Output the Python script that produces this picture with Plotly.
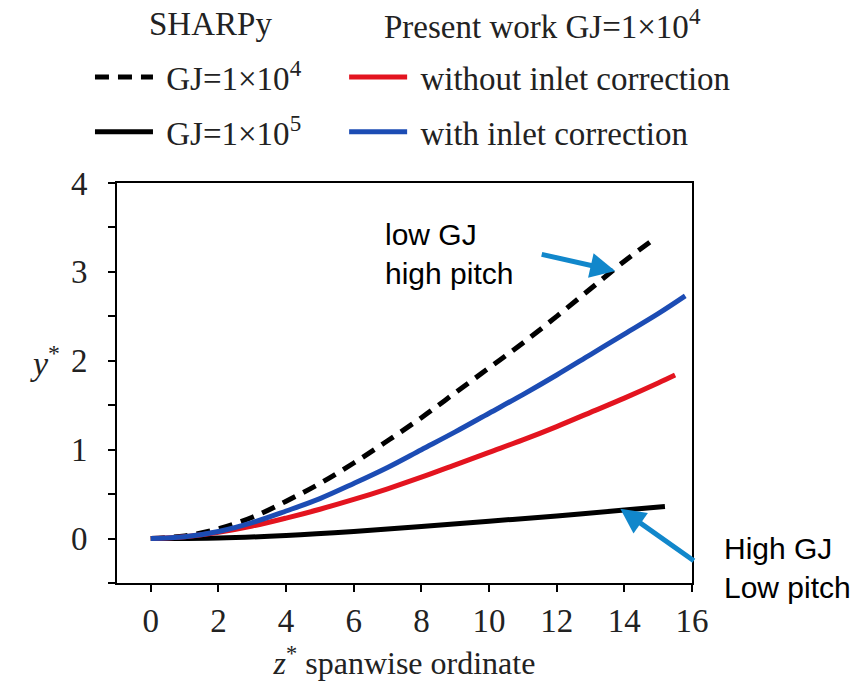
import plotly.graph_objects as go

# ---- data ----
z_sharpy_gj4 = [0, 1, 2, 3, 4, 5, 6, 7, 8, 9, 10, 11, 12, 13, 14, 14.85]
y_sharpy_gj4 = [0, 0.03, 0.11, 0.24, 0.42, 0.62, 0.85, 1.10, 1.36, 1.64, 1.92, 2.20, 2.50, 2.81, 3.12, 3.36]

z_sharpy_gj5 = [0, 2, 4, 6, 8, 10, 12, 14, 15.2]
y_sharpy_gj5 = [0, 0.005, 0.035, 0.08, 0.135, 0.195, 0.255, 0.32, 0.36]

z_no_corr = [0, 1, 2, 3, 4, 5, 6, 7, 8, 9, 10, 11, 12, 13, 14, 15, 15.5]
y_no_corr = [0, 0.02, 0.07, 0.14, 0.23, 0.33, 0.44, 0.56, 0.69, 0.83, 0.97, 1.11, 1.26, 1.42, 1.58, 1.75, 1.84]

z_corr = [0, 1, 2, 3, 4, 5, 6, 7, 8, 9, 10, 11, 12, 13, 14, 15, 15.8]
y_corr = [0, 0.02, 0.08, 0.18, 0.31, 0.45, 0.62, 0.80, 1.00, 1.20, 1.41, 1.62, 1.84, 2.07, 2.30, 2.53, 2.73]

x_ticks = [0, 2, 4, 6, 8, 10, 12, 14, 16]
y_ticks = [0, 1, 2, 3, 4]

SERIF = "Liberation Serif, Times New Roman, serif"
SANS = "Liberation Sans, Arial, sans-serif"
TXT = "#222"
RED = "#e3141f"
BLUE = "#1c4cb4"
ARROW = "#1187cb"
NB = "\u00a0"

fig = go.Figure()
fig.add_trace(go.Scatter(x=z_sharpy_gj4, y=y_sharpy_gj4, mode="lines", name=NB + "GJ=1×10<sup>4</sup>",
                         line=dict(color="black", width=5, dash="14px,9px", shape="spline"),
                         legend="legend", legendgroup="a"))
fig.add_trace(go.Scatter(x=z_sharpy_gj5, y=y_sharpy_gj5, mode="lines", name=NB + "GJ=1×10<sup>5</sup>",
                         line=dict(color="black", width=5, shape="spline"), legend="legend", legendgroup="b"))
fig.add_trace(go.Scatter(x=z_no_corr, y=y_no_corr, mode="lines", name=NB + "without inlet correction",
                         line=dict(color=RED, width=5, shape="spline"), legend="legend2", legendgroup="c"))
fig.add_trace(go.Scatter(x=z_corr, y=y_corr, mode="lines", name=NB + "with inlet correction",
                         line=dict(color=BLUE, width=5, shape="spline"), legend="legend2", legendgroup="d"))

axis_common = dict(showline=True, linecolor="black", linewidth=2, mirror=True, ticks="outside",
                   ticklen=7, tickwidth=2, tickcolor="black", showgrid=False, zeroline=False,
                   tickfont=dict(family=SERIF, size=33, color=TXT))

legend_common = dict(yanchor="top", xanchor="left", itemwidth=58, tracegroupgap=9,
                     font=dict(family=SERIF, size=33, color=TXT), bgcolor="rgba(0,0,0,0)")

fig.update_layout(
    width=862, height=687,
    margin=dict(l=117, r=170, t=183, b=100),
    paper_bgcolor="white", plot_bgcolor="white",
    xaxis=dict(range=[-1, 16], tickvals=x_ticks, **axis_common,
               title=dict(text="<i>z</i><sup>*</sup> spanwise ordinate",
                          font=dict(family=SERIF, size=32, color=TXT), standoff=14)),
    yaxis=dict(range=[-0.5, 4], tickvals=y_ticks, ticklabelstandoff=14,
               minor=dict(dtick=0.5, ticks="outside", ticklen=7, tickwidth=2, tickcolor="black"),
               **axis_common),
    legend=dict(x=-0.047, y=1.335, **legend_common),
    legend2=dict(x=0.395, y=1.335, **legend_common),
    showlegend=True,
)

# legend group headers
fig.add_annotation(text="SHARPy", xref="paper", yref="paper", x=(210 - 117) / 575, y=(587 - 22) / 404,
                   showarrow=False, xanchor="center", yanchor="middle",
                   font=dict(family=SERIF, size=33, color=TXT))
fig.add_annotation(text="Present work GJ=1×10<sup>4</sup>", xref="paper", yref="paper",
                   x=(542 - 117) / 575, y=(587 - 22) / 404,
                   showarrow=False, xanchor="center", yanchor="middle",
                   font=dict(family=SERIF, size=33, color=TXT))

# y axis title (horizontal)
fig.add_annotation(text="<i>y</i><sup>*</sup>", xref="paper", yref="paper", x=-0.155, y=0.555,
                   showarrow=False, font=dict(family=SERIF, size=34, color=TXT))

# callouts
fig.add_annotation(text="low GJ<br>high pitch", xref="x", yref="y", x=6.86, y=3.63,
                   xanchor="left", yanchor="top", align="left", showarrow=False,
                   font=dict(family=SANS, size=30, color="black"))
fig.add_annotation(text="High GJ<br>Low pitch", xref="paper", yref="paper", x=(722 - 117) / 575,
                   y=(587 - 533) / 404, xanchor="left", yanchor="top", align="left", showarrow=False,
                   font=dict(family=SANS, size=30, color="black"))

fig.add_annotation(x=13.73, y=3.01, xref="x", yref="y", ax=-75, ay=-17, text="",
                   showarrow=True, arrowhead=2, arrowsize=1, arrowwidth=5, arrowcolor=ARROW)
fig.add_annotation(x=13.88, y=0.334, xref="x", yref="y", ax=75, ay=53, text="",
                   showarrow=True, arrowhead=2, arrowsize=1, arrowwidth=5, arrowcolor=ARROW)

fig.write_html("out.html")
